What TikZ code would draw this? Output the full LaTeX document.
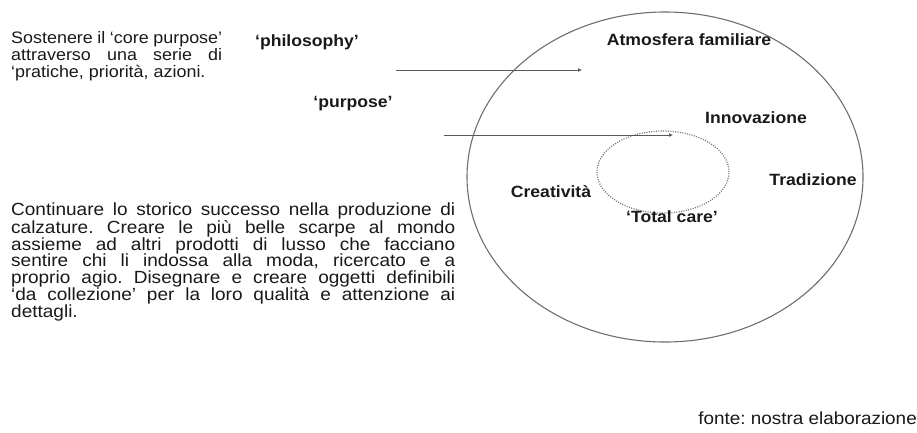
\documentclass[tikz,border=0pt]{standalone}
\usepackage{fontspec}
\setmainfont{Liberation Sans}[FakeStretch=1.08]
\usepackage{tikz}
\usetikzlibrary{arrows.meta, positioning, shapes.geometric}
\definecolor{RingGray}{RGB}{110, 110, 110}
\definecolor{InkGray}{RGB}{25, 25, 25}
\newcommand{\tightlines}{\setlength{\lineskiplimit}{-20pt}}
\tikzset{
  keyword/.style={font=\fontsize{16.3}{18}\selectfont\bfseries, text=InkGray, inner sep=0pt},
  pointer/.style={draw=RingGray!80!black, line width=1pt, -{Latex[length=4pt, width=4pt]}}
}

\begin{document}
\frenchspacing
\begin{tikzpicture}[x=1pt, y=-1pt]
  \useasboundingbox (0,0) rectangle (917,432);

  % left column
  \node[
    anchor=north west,
    text width=211pt,
    align=justify,
    inner sep=0pt,
    text=InkGray,
    font=\fontsize{16.6}{16.9}\selectfont
  ] (sostenere) at (11,31) {\tightlines
    Sostenere il ‘core purpose’\linebreak
    attraverso una serie di\linebreak
    ‘pratiche, priorità, azioni.};

  \node[
    anchor=north west,
    text width=444pt,
    align=justify,
    inner sep=0pt,
    text=InkGray,
    font=\fontsize{17.6}{16.5}\selectfont
  ] (continuare) at (11,203) {\tightlines
    Continuare lo storico successo nella produzione di\linebreak
    calzature. Creare le più belle scarpe al mondo\linebreak
    assieme ad altri prodotti di lusso che facciano\linebreak
    sentire chi li indossa alla moda, ricercato e a\linebreak
    proprio agio. Disegnare e creare oggetti definibili\linebreak
    ‘da collezione’ per la loro qualità e attenzione ai\linebreak
    dettagli.};

  \node[keyword] (philosophy) at (307,42) {‘philosophy’};
  \node[keyword] (purpose) at (353,104) {‘purpose’};

  % the two rings
  \node[ellipse, draw=RingGray, line width=1.1pt,
        minimum width=396pt, minimum height=330pt, inner sep=0pt] (ring) at (665,177) {};
  \node[ellipse, draw=RingGray, line width=1.2pt, dash pattern=on 1pt off 1.4pt,
        minimum width=132pt, minimum height=82pt, inner sep=0pt] (core) at (663,172) {};

  \node[keyword] (atmosfera) at (689,40) {Atmosfera familiare};
  \node[keyword] (innovazione) at (756,118) {Innovazione};
  \node[keyword] (tradizione) at (813,180) {Tradizione};
  \node[keyword] (creativita) at (551,192) {Creatività};
  \node[keyword] (totalcare) at (672,217) {‘Total care’};

  % arrows
  \coordinate (philoStart) at (396,70);
  \coordinate (philoTip) at (582,70);
  \coordinate (purpStart) at (444,135);
  \coordinate (purpTip) at (673,135);
  \draw[pointer] (philoStart) -- (philoTip);
  \draw[pointer] (purpStart) -- (purpTip);

  \node[anchor=base east, inner sep=0pt, text=InkGray,
        font=\fontsize{17.5}{20}\selectfont] (fonte) at (917,424) {fonte: nostra elaborazione};
\end{tikzpicture}
\end{document}
